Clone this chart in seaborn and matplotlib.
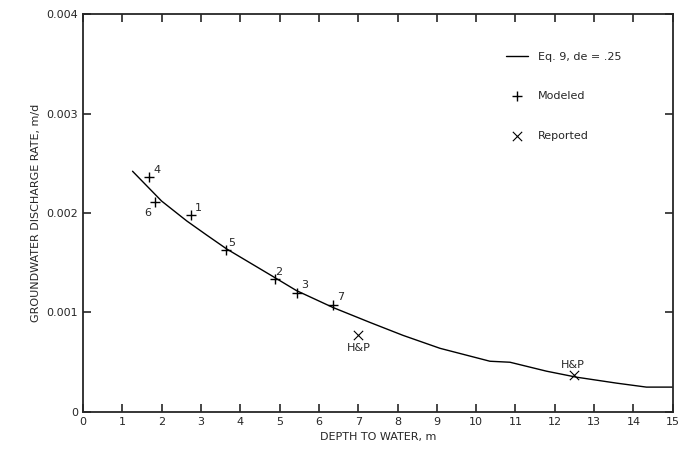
import matplotlib
matplotlib.use("Agg")
import matplotlib.pyplot as plt
import numpy as np
import pandas as pd
import seaborn as sns

sns.set_style("ticks")
plt.rcParams['font.family'] = ['DejaVu Sans']

# Eq. 9 curve
curve_depth = [1.26, 2.0, 2.64, 3.14, 3.65, 4.33, 4.84, 5.43, 6.36, 7.3, 8.14, 9.08,
               10.35, 10.86, 11.79, 12.55, 13.57, 14.33, 15.0]
curve_rate = [0.00242, 0.00212, 0.00192, 0.00178, 0.00164, 0.00148, 0.00136, 0.00122,
              0.00105, 0.00090, 0.00077, 0.00064, 0.00051, 0.00050, 0.00041, 0.00035,
              0.00029, 0.00025, 0.00025]

# modeled points
mod_label = ["4", "6", "1", "5", "2", "3", "7"]
mod_depth = [1.68, 1.83, 2.75, 3.65, 4.88, 5.45, 6.35]
mod_rate = [0.00236, 0.00211, 0.00198, 0.00163, 0.00134, 0.00120, 0.00108]

# reported points
rep_label = ["H&P", "H&P"]
rep_depth = [7.0, 12.5]
rep_rate = [0.00077, 0.00037]

fig = plt.figure(figsize=(6.83, 4.68), dpi=100)
ax = fig.add_axes([0.1215, 0.1197, 0.8635, 0.8503])

curve = pd.DataFrame({"depth": curve_depth, "rate": curve_rate})
sns.lineplot(data=curve, x="depth", y="rate", color="black", linewidth=1.0, ax=ax,
             label="Eq. 9, de = .25")
sns.scatterplot(x=mod_depth, y=mod_rate, marker="+", color="black", s=60, linewidth=1.0,
                ax=ax, label="Modeled")
sns.scatterplot(x=rep_depth, y=rep_rate, marker="x", color="black", s=45, linewidth=0.8,
                ax=ax, label="Reported")

# point labels
offs = {"4": (3, 3), "6": (-8, -10), "1": (3, 3), "5": (1, 3), "2": (0, 3), "3": (3, 3), "7": (3, 3)}
for lab, x, y in zip(mod_label, mod_depth, mod_rate):
    ax.annotate(lab, (x, y), xytext=offs[lab], textcoords="offset points", fontsize=8)
ax.annotate(rep_label[0], (rep_depth[0], rep_rate[0]), xytext=(-8, -11),
            textcoords="offset points", fontsize=8)
ax.annotate(rep_label[1], (rep_depth[1], rep_rate[1]), xytext=(-10, 5),
            textcoords="offset points", fontsize=8)

ax.set_xlim(0, 15)
ax.set_ylim(0, 0.004)
ax.set_xticks(range(0, 16))
ax.set_yticks([0, 0.001, 0.002, 0.003, 0.004])
ax.set_yticklabels(["0", "0.001", "0.002", "0.003", "0.004"])
ax.tick_params(direction="in", top=True, right=True, length=6, width=1.2, labelsize=8)
for s in ax.spines.values():
    s.set_linewidth(1.3)
ax.set_xlabel("DEPTH TO WATER, m", fontsize=8)
ax.set_ylabel("GROUNDWATER DISCHARGE RATE, m/d", fontsize=8)

ax.legend(loc="upper left", frameon=False, fontsize=8, handlelength=2.0,
          handletextpad=0.9, labelspacing=2.65, bbox_to_anchor=(0.70, 0.93))

fig.savefig("out.png", dpi=100)
